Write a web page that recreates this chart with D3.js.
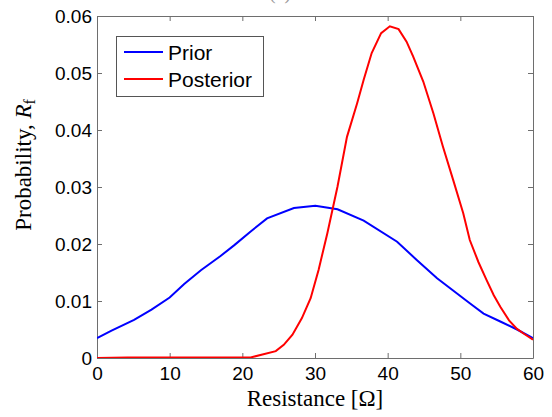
<!DOCTYPE html>
<html>
<head>
<meta charset="utf-8">
<script src="https://cdn.jsdelivr.net/npm/d3@7"></script>
<style>
  body { margin: 0; background: #fff; }
  svg { display: block; }
</style>
</head>
<body>
<svg id="chart" width="552" height="417"></svg>
<script>
// values
var priorX = [0, 2, 5.1, 7.5, 10, 12, 14.3, 17, 18.9, 21.15, 23.4, 27.1, 30.05, 33.1, 36.7, 41.3, 44, 46.8, 51.3, 53.2, 55.5, 57.8, 60]
var prior  = [0.0035, 0.0048, 0.0067, 0.0085, 0.0106, 0.0130, 0.0154, 0.0179, 0.0198, 0.0222, 0.0245, 0.0263, 0.0267, 0.0261, 0.0241, 0.0204, 0.0172, 0.0140, 0.0096, 0.0078, 0.0064, 0.0050, 0.0035]

var postX = [0, 4.2, 21.15, 24.6, 25.7, 26.9, 28.2, 29.4, 30.5, 31.7, 33.1, 34.4, 35.8, 36.7, 37.8, 39.1, 40.3, 41.5, 42.6, 43.5, 44.9, 46.3, 47.6, 49, 50.4, 51.3, 52.5, 53.6, 54.6, 55.5, 56.7, 57.8, 58.7, 60]
var posterior = [0, 0.0001, 0.0001, 0.0012, 0.0023, 0.0041, 0.0070, 0.0105, 0.0155, 0.0219, 0.0301, 0.0388, 0.0447, 0.0488, 0.0535, 0.0570, 0.0582, 0.0577, 0.0555, 0.0529, 0.0485, 0.0429, 0.0371, 0.0313, 0.0254, 0.0207, 0.0168, 0.0137, 0.0110, 0.0090, 0.0066, 0.0051, 0.0043, 0.0032]

var xTicks = [0, 10, 20, 30, 40, 50, 60]
var yTicks = [0, 0.01, 0.02, 0.03, 0.04, 0.05, 0.06]
var yTickLabels = ["0", "0.01", "0.02", "0.03", "0.04", "0.05", "0.06"]

// plot box (window.top is read-only, so use other names)
var padL = 97, padR = 533, padT = 16, padB = 358

var svg = d3.select("#chart")

var x = d3.scaleLinear().domain([0, 60]).range([padL, padR])
var y = d3.scaleLinear().domain([0, 0.06]).range([padB, padT])

// cut-off title at the very top
svg.append("text")
  .attr("x", 280).attr("y", -1.5)
  .attr("text-anchor", "middle")
  .attr("font-family", "Liberation Serif, Times New Roman, serif")
  .attr("font-size", "20px")
  .style("fill", "#999")
  .text("(a)")

// axes with inward ticks on all four sides
var tickLen = 5
var axisColor = "#6e6e6e"

svg.append("g")
  .attr("transform", "translate(0," + padB + ")")
  .call(d3.axisBottom(x).tickValues(xTicks).tickSizeInner(-tickLen).tickSizeOuter(0).tickPadding(9))
svg.append("g")
  .attr("transform", "translate(0," + padT + ")")
  .call(d3.axisTop(x).tickValues(xTicks).tickSizeInner(-tickLen).tickSizeOuter(0).tickFormat(""))
svg.append("g")
  .attr("transform", "translate(" + padL + ",0)")
  .call(d3.axisLeft(y).tickValues(yTicks).tickSizeInner(-tickLen).tickSizeOuter(0).tickPadding(5)
    .tickFormat(function(d, i){ return yTickLabels[i] }))
svg.append("g")
  .attr("transform", "translate(" + padR + ",0)")
  .call(d3.axisRight(y).tickValues(yTicks).tickSizeInner(-tickLen).tickSizeOuter(0).tickFormat(""))

svg.selectAll(".domain").attr("stroke", axisColor)
svg.selectAll(".tick line").attr("stroke", axisColor)
svg.selectAll(".tick text")
  .attr("font-family", "Liberation Sans, Arial, sans-serif")
  .attr("font-size", "19px")
  .style("fill", "#000")

// lines
var line = d3.line()
  .x(function(d){ return x(d[0]) })
  .y(function(d){ return y(d[1]) })

svg.append("clipPath").attr("id", "clip")
  .append("rect").attr("x", padL).attr("y", padT).attr("width", padR - padL).attr("height", padB - padT)

var plot = svg.append("g").attr("clip-path", "url(#clip)")

plot.append("path")
  .datum(priorX.map(function(d, i){ return [d, prior[i]] }))
  .attr("d", line)
  .attr("fill", "none")
  .attr("stroke", "#0000ff")
  .attr("stroke-width", 2)

plot.append("path")
  .datum(postX.map(function(d, i){ return [d, posterior[i]] }))
  .attr("d", line)
  .attr("fill", "none")
  .attr("stroke", "#ff0000")
  .attr("stroke-width", 2)

// axis labels
svg.append("text")
  .attr("x", (padL + padR) / 2).attr("y", 406)
  .attr("text-anchor", "middle")
  .attr("font-family", "Liberation Serif, Times New Roman, serif")
  .attr("font-size", "23px")
  .text("Resistance [\u03A9]")

var yl = svg.append("text")
  .attr("transform", "translate(31,165) rotate(-90)")
  .attr("text-anchor", "middle")
  .attr("font-family", "Liberation Serif, Times New Roman, serif")
  .attr("font-size", "23px")
yl.append("tspan").text("Probability, ")
yl.append("tspan").attr("font-style", "italic").text("R")
yl.append("tspan").attr("font-size", "16px").attr("dy", 4).text("f")

// legend
var legendNames = ["Prior", "Posterior"]
var legendColors = ["#0000ff", "#ff0000"]

svg.append("rect")
  .attr("x", 116.5).attr("y", 36.5).attr("width", 147).attr("height", 60)
  .attr("fill", "#fff").attr("stroke", "#555").attr("stroke-width", 1)

var lg = svg.selectAll(".lg")
  .data(legendNames)
  .enter()
  .append("g")
  .attr("class", "lg")
  .attr("transform", function(d, i){ return "translate(0," + (52 + i * 27) + ")" })

lg.append("line")
  .attr("x1", 124).attr("x2", 163)
  .attr("stroke", function(d, i){ return legendColors[i] })
  .attr("stroke-width", 2)

lg.append("text")
  .attr("x", 168).attr("dy", "0.36em")
  .attr("font-family", "Liberation Sans, Arial, sans-serif")
  .attr("font-size", "21px")
  .text(function(d){ return d })
</script>
</body>
</html>
